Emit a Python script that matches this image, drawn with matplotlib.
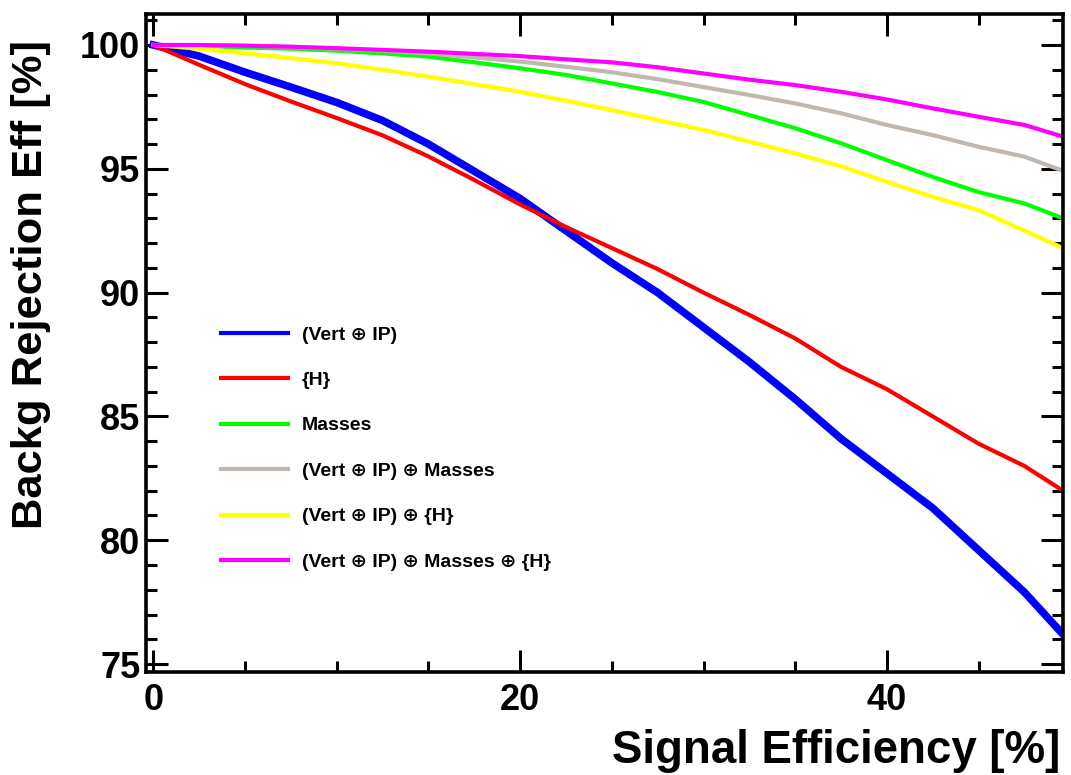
import matplotlib
matplotlib.use('Agg')
import matplotlib.pyplot as plt
from matplotlib.lines import Line2D
from matplotlib.ticker import MultipleLocator

plt.rcParams['font.family'] = ['Liberation Sans', 'DejaVu Sans']
plt.rcParams['font.weight'] = 'bold'

# signal efficiency [%]
sig_eff = [0, 2.5, 5, 7.5, 10, 12.5, 15, 17.5, 20, 22.5, 25, 27.5, 30,
           32.5, 35, 37.5, 40, 42.5, 45, 47.5, 49.6]

# background rejection [%] per variable set
vert_ip = [100, 99.55, 98.9, 98.3, 97.68, 96.95, 96.0, 94.9, 93.8, 92.5, 91.2,
           90.0, 88.6, 87.2, 85.7, 84.1, 82.7, 81.3, 79.6, 77.9, 76.2]
h_set = [100, 99.2, 98.42, 97.72, 97.05, 96.35, 95.5, 94.55, 93.56, 92.65, 91.8,
         90.95, 90.0, 89.1, 88.15, 87.0, 86.1, 85.0, 83.9, 83.0, 82.0]
masses = [100, 99.97, 99.9, 99.85, 99.77, 99.66, 99.53, 99.3, 99.06, 98.79, 98.45,
          98.1, 97.7, 97.17, 96.64, 96.03, 95.35, 94.67, 94.06, 93.6, 93.0]
vip_masses = [100, 99.99, 99.97, 99.92, 99.85, 99.77, 99.66, 99.5, 99.33, 99.12, 98.9,
              98.62, 98.3, 97.98, 97.64, 97.24, 96.77, 96.36, 95.89, 95.49, 94.92]
vip_h = [100, 99.85, 99.66, 99.47, 99.26, 99.0, 98.72, 98.42, 98.11, 97.75, 97.37,
         96.97, 96.57, 96.1, 95.62, 95.1, 94.47, 93.87, 93.33, 92.5, 91.8]
vip_masses_h = [100, 100, 99.97, 99.93, 99.87, 99.8, 99.73, 99.64, 99.55, 99.42, 99.3,
                99.1, 98.85, 98.6, 98.38, 98.11, 97.8, 97.44, 97.1, 96.77, 96.3]

labels = ['(Vert \u2295 IP)',
          '{H}',
          'Masses',
          '(Vert \u2295 IP) \u2295 Masses',
          '(Vert \u2295 IP) \u2295 {H}',
          '(Vert \u2295 IP) \u2295 Masses \u2295 {H}']
colors = ['#0000ff', '#ff0000', '#00ff00', '#c0b8ae', '#ffff00', '#ff00ff']
series = [vert_ip, h_set, masses, vip_masses, vip_h, vip_masses_h]

fig = plt.figure(figsize=(10.71, 7.75), dpi=100)
ax = fig.add_axes([0.1363, 0.1329, 0.8562, 0.849])

for i, (ys, c) in enumerate(zip(series, colors)):
    lw = 5.5 if i == 0 else 3
    ax.plot(sig_eff, ys, color=c, lw=lw, solid_joinstyle='round')

ax.set_xlim(-0.4, 49.6)
ax.set_ylim(74.68, 101.25)
ax.xaxis.set_major_locator(MultipleLocator(20))
ax.xaxis.set_minor_locator(MultipleLocator(5))
ax.yaxis.set_major_locator(MultipleLocator(5))
ax.yaxis.set_minor_locator(MultipleLocator(1))
ax.tick_params(which='both', direction='in', top=True, right=True, width=2.2)
ax.tick_params(which='major', length=16)
ax.tick_params(which='minor', length=8)
ax.tick_params(axis='x', pad=8, labelsize=26)
ax.tick_params(axis='y', pad=4, labelsize=26)
for sp in ax.spines.values():
    sp.set_linewidth(2.6)

handles = [Line2D([], [], color=c, lw=3) for c in colors]
ax.legend(handles, labels, loc='upper left', bbox_to_anchor=(0.0816, 0.5258),
          frameon=False, borderpad=0, borderaxespad=0, handlelength=3.45,
          handletextpad=0.72, labelspacing=1.43, prop={'size': 14, 'weight': 'bold'})

fig.text(0.029, 1 - 40 / 775, 'Backg Rejection Eff [%]', rotation=90,
         ha='center', va='top', fontsize=31.3, fontweight='bold')
fig.text(1060 / 1071, 1 - 763 / 775, 'Signal Efficiency [%]', ha='right',
         va='baseline', fontsize=32.9, fontweight='bold')

fig.savefig('out.png', dpi=100)
